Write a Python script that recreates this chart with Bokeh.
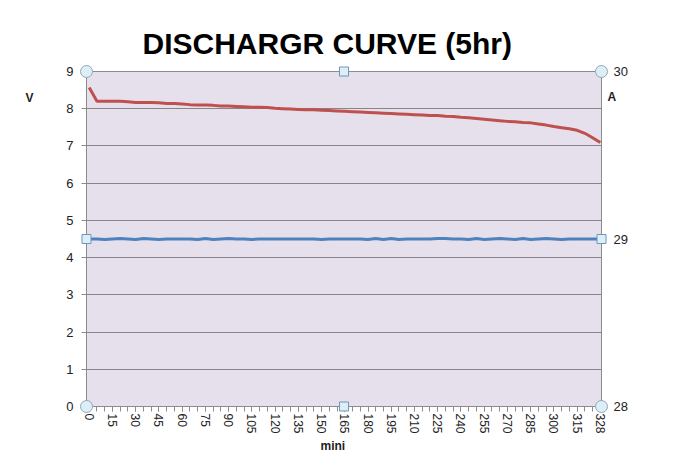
from bokeh.plotting import figure
from bokeh.models import Range1d, LinearAxis, FixedTicker, Title
from bokeh.embed import file_html
from bokeh.resources import INLINE

# ---- data ----
minutes = [0, 5, 10, 15, 20, 25, 30, 35, 40, 45, 50, 55, 60, 65, 70, 75, 80, 85, 90, 95,
           100, 105, 110, 115, 120, 125, 130, 135, 140, 145, 150, 155, 160, 165, 170, 175,
           180, 185, 190, 195, 200, 205, 210, 215, 220, 225, 230, 235, 240, 245, 250, 255,
           260, 265, 270, 275, 280, 285, 290, 295, 300, 305, 310, 315, 320, 325, 328]
voltage = [8.57, 8.20, 8.20, 8.20, 8.20, 8.19, 8.17, 8.17, 8.17, 8.16, 8.14, 8.14, 8.13,
           8.11, 8.10, 8.10, 8.09, 8.07, 8.07, 8.06, 8.05, 8.04, 8.04, 8.03, 8.01, 8.00,
           7.99, 7.98, 7.97, 7.97, 7.96, 7.95, 7.94, 7.93, 7.92, 7.91, 7.90, 7.89, 7.88,
           7.87, 7.86, 7.85, 7.84, 7.83, 7.82, 7.82, 7.80, 7.79, 7.77, 7.76, 7.74, 7.72,
           7.70, 7.68, 7.66, 7.65, 7.63, 7.62, 7.59, 7.56, 7.52, 7.49, 7.46, 7.42, 7.34,
           7.22, 7.09]
current = [29.000, 29.000, 28.997, 29.000, 29.003, 29.000, 28.997, 29.003, 29.000, 28.997,
           29.000, 29.000, 29.000, 29.000, 28.997, 29.003, 28.997, 29.000, 29.003, 29.000,
           29.000, 28.997, 29.000, 29.000, 29.000, 29.000, 29.000, 29.000, 29.000, 29.000,
           28.997, 29.000, 29.000, 29.000, 29.000, 29.000, 28.997, 29.003, 28.997, 29.003,
           28.997, 29.000, 29.000, 29.000, 29.000, 29.003, 29.003, 29.000, 29.000, 28.997,
           29.003, 28.997, 29.000, 29.003, 29.000, 28.997, 29.003, 28.997, 29.000, 29.003,
           29.000, 28.997, 29.000, 29.000, 29.000, 29.000, 29.000]
x_tick_labels = ["0", "15", "30", "45", "60", "75", "90", "105", "120", "135", "150", "165",
                 "180", "195", "210", "225", "240", "255", "270", "285", "300", "315", "328"]
v_ticks = [0, 1, 2, 3, 4, 5, 6, 7, 8, 9]
a_ticks = [28, 29, 30]
title_text = "DISCHARGR CURVE (5hr)"
v_unit, a_unit, x_unit = "V", "A", "mini"
v_unit_at, a_unit_at = 8.3, 29.85   # heights (axis units) where the unit names sit

# category positions (Excel category axis)
idx = list(range(len(minutes)))
label_idx = [i for i, m in enumerate(minutes) if str(m) in x_tick_labels]
overrides = {i: str(minutes[i]) for i in label_idx}

x0, x1 = -0.35, 66.15
v0, v1 = v_ticks[0], v_ticks[-1]
a0, a1 = a_ticks[0], a_ticks[-1]

p = figure(width=670, height=452, output_backend="svg", toolbar_location=None,
           x_range=Range1d(x0, x1), y_range=Range1d(v0, v1),
           min_border_left=86, min_border_right=69, min_border_top=71, min_border_bottom=44,
           background_fill_color="#E5E0EC", border_fill_color="white",
           outline_line_color="#8C8C8C", outline_line_width=1)
p.extra_y_ranges = {"amp": Range1d(a0, a1)}

tick_font = "Liberation Sans"
# title
p.title.text = title_text
p.title.text_font = "Liberation Sans"
p.title.text_font_style = "bold"
p.title.text_font_size = "30px"
p.title.text_color = "#000000"
p.title.align = "left"
p.title.offset = 56
p.title.standoff = 24

# bottom axis
xa = p.xaxis[0]
xa.ticker = FixedTicker(ticks=label_idx, minor_ticks=idx)
xa.major_label_overrides = overrides
xa.major_label_orientation = "vertical"
xa.axis_line_color = "#8C8C8C"
xa.major_tick_line_color = "#8C8C8C"
xa.minor_tick_line_color = "#8C8C8C"
xa.major_tick_in = 0
xa.major_tick_out = 5
xa.minor_tick_in = 0
xa.minor_tick_out = 5
xa.major_label_standoff = 2
xa.major_label_text_font = tick_font
xa.major_label_text_font_size = "12px"
xa.major_label_text_color = "#222222"

xt = Title(text=x_unit, align="left", offset=234, standoff=0,
           text_font=tick_font, text_font_style="bold", text_font_size="12px",
           text_color="#222222")
p.add_layout(xt, "below")

# left axis
ya = p.yaxis[0]
ya.ticker = FixedTicker(ticks=v_ticks)
ya.axis_line_color = "#8C8C8C"
ya.major_tick_line_color = "#8C8C8C"
ya.minor_tick_line_color = None
ya.major_tick_in = 0
ya.major_tick_out = 5
ya.major_label_standoff = 8
ya.major_label_text_font = tick_font
ya.major_label_text_font_size = "13px"
ya.major_label_text_color = "#222222"

# unit name of the left axis, as an outer axis carrying only one label
va = LinearAxis(ticker=FixedTicker(ticks=[v_unit_at]),
                major_label_overrides={v_unit_at: v_unit})
va.axis_line_color = None
va.major_tick_line_color = None
va.minor_tick_line_color = None
va.major_tick_in = 0
va.major_tick_out = 0
va.major_label_standoff = 30
va.major_label_text_font = tick_font
va.major_label_text_font_style = "bold"
va.major_label_text_font_size = "12px"
va.major_label_text_color = "#222222"
p.add_layout(va, "left")

# unit name of the right axis (inner axis carrying only one label)
aa = LinearAxis(y_range_name="amp", ticker=FixedTicker(ticks=[a_unit_at]),
                major_label_overrides={a_unit_at: a_unit})
aa.axis_line_color = "#8C8C8C"
aa.major_tick_line_color = None
aa.minor_tick_line_color = None
aa.major_tick_in = 0
aa.major_tick_out = 0
aa.major_label_standoff = 6
aa.major_label_text_font = tick_font
aa.major_label_text_font_style = "bold"
aa.major_label_text_font_size = "12px"
aa.major_label_text_color = "#222222"
p.add_layout(aa, "right")

# right value axis
ra = LinearAxis(y_range_name="amp", ticker=FixedTicker(ticks=a_ticks))
ra.axis_line_color = None
ra.major_tick_line_color = None
ra.minor_tick_line_color = None
ra.major_tick_in = 0
ra.major_tick_out = 0
ra.major_label_standoff = -6
ra.major_label_text_font = tick_font
ra.major_label_text_font_size = "13px"
ra.major_label_text_color = "#222222"
p.add_layout(ra, "right")

p.xgrid.grid_line_color = None
p.ygrid.ticker = FixedTicker(ticks=v_ticks)
p.ygrid.grid_line_color = "#868686"
p.ygrid.grid_line_width = 1

# series
p.line(idx, voltage, line_color="#C0504D", line_width=3)
p.line(idx, current, line_color="#4F81BD", line_width=3, y_range_name="amp")

# selection handles of the plot area
xm = (x0 + x1) / 2
vm = (v0 + v1) / 2
p.scatter([x0, x1, x0, x1], [v0, v0, v1, v1], marker="circle", size=12,
          fill_color="#DDEFF5", line_color="#8FA8C0", line_width=1, level="overlay")
p.scatter([xm, xm, x0, x1], [v0, v1, vm, vm], marker="square", size=9,
          fill_color="#DDEFF5", line_color="#6F95BF", line_width=1, level="overlay")

open("out.html", "w").write(file_html(p, INLINE))
